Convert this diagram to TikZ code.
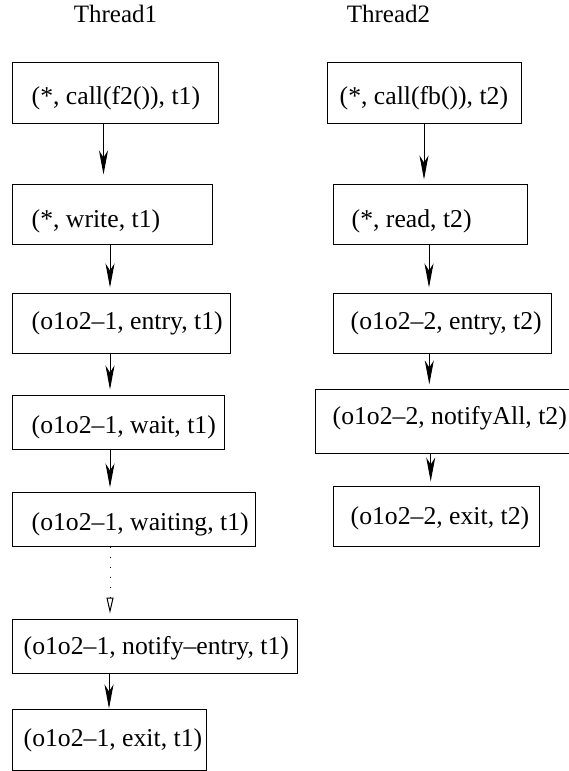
\documentclass[tikz,border=0pt]{standalone}
\usepackage{fontspec}
\setmainfont{Liberation Serif}
\usetikzlibrary{arrows.meta}
\tikzset{
  box/.style={draw, line width=1pt, inner sep=0pt},
  txt/.style={inner sep=0pt, font=\fontsize{25.7}{30}\selectfont},
  ttl/.style={inner sep=0pt, font=\fontsize{25}{30}\selectfont},
  arr/.style={line width=1pt, -{Stealth[length=24pt, width=9pt, inset=7pt]}},
  darr/.style={line width=1pt, dash pattern=on 1.2pt off 8.8pt, -{Triangle[open, length=16pt, width=7pt, line width=1pt]}},
  lab/.style n args={3}{label={[txt, anchor=west, xshift=#1pt, yshift=#2pt]west:{#3}}}
}
\begin{document}
\begin{tikzpicture}[x=1pt,y=-1pt]
\useasboundingbox (0,0) rectangle (568,771);
% titles
\node[ttl, anchor=base] (t1) at (115.5,22) {Thread1};
\node[ttl, anchor=base] (t2) at (388.5,22) {Thread2};
% left column
\node[box, minimum width=206pt, minimum height=61pt, lab={20}{-6}{(*, call(f2()), t1)}] (L1) at (115,92.5) {};
\node[box, minimum width=200pt, minimum height=60pt, lab={20}{-7}{(*, write, t1)}] (L2) at (112,214) {};
\node[box, minimum width=218pt, minimum height=60pt, lab={20}{0}{(o1o2–1, entry, t1)}] (L3) at (121,323) {};
\node[box, minimum width=212pt, minimum height=54pt, lab={20}{-5}{(o1o2–1, wait, t1)}] (L4) at (118,422) {};
\node[box, minimum width=243pt, minimum height=54pt, lab={20}{-5}{(o1o2–1, waiting, t1)}] (L5) at (133.5,519) {};
\node[box, minimum width=285pt, minimum height=54pt, lab={12}{-2.5}{(o1o2–1, notify–entry, t1)}] (L6) at (154.5,646) {};
\node[box, minimum width=194pt, minimum height=61pt, lab={12}{-1}{(o1o2–1, exit, t1)}] (L7) at (109,739.5) {};
% right column
\node[box, minimum width=194pt, minimum height=61pt, lab={13}{-6}{(*, call(fb()), t2)}] (R1) at (424,92.5) {};
\node[box, minimum width=194pt, minimum height=60pt, lab={19}{-7}{(*, read, t2)}] (R2) at (430,214) {};
\node[box, minimum width=218pt, minimum height=60pt, lab={18}{0}{(o1o2–2, entry, t2)}] (R3) at (442,323) {};
\node[box, minimum width=255pt, minimum height=64pt, lab={18}{3}{(o1o2–2, notifyAll, t2)}] (R4) at (442.5,421) {};
\node[box, minimum width=206pt, minimum height=60pt, lab={18}{-2.5}{(o1o2–2, exit, t2)}] (R5) at (436,516) {};
% connectors left
\draw[arr, shorten >=9pt] ([xshift=-11.5pt]L1.south) -- ([xshift=-8.5pt]L2.north);
\draw[arr, shorten >=5pt] ([xshift=-2pt]L2.south) -- ([xshift=-11pt]L3.north);
\draw[arr, shorten >=5pt] ([xshift=-11pt]L3.south) -- ([xshift=-8pt]L4.north);
\draw[arr, shorten >=4pt] ([xshift=-8pt]L4.south) -- ([xshift=-23.5pt]L5.north);
\draw[darr, shorten >=5pt] ([xshift=-23.5pt]L5.south) -- ([xshift=-44.5pt]L6.north);
\draw[arr] ([xshift=-45.5pt]L6.south) -- ([xshift=0pt]L7.north);
% connectors right
\draw[arr, shorten >=4pt] ([xshift=0pt]R1.south) -- ([xshift=-6pt]R2.north);
\draw[arr, shorten >=5pt] ([xshift=-1pt]R2.south) -- ([xshift=-13pt]R3.north);
\draw[arr, shorten >=4pt] ([xshift=-12.7pt]R3.south) -- ([xshift=-13.2pt]R4.north);
\draw[arr, shorten >=4pt] ([xshift=-11.8pt]R4.south) -- ([xshift=-5.3pt]R5.north);
\end{tikzpicture}
\end{document}
